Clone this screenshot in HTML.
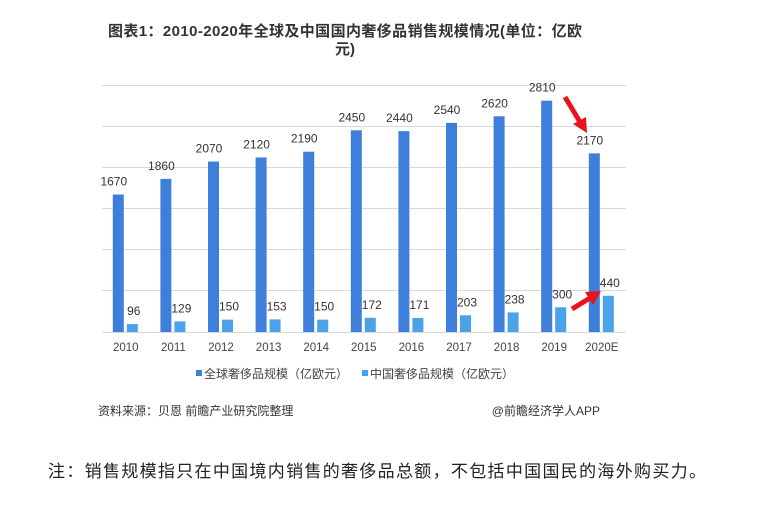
<!DOCTYPE html>
<html><head><meta charset="utf-8"><style>
body{margin:0;background:#fff;width:773px;height:510px;overflow:hidden;font-family:"Liberation Sans","Noto Sans CJK SC",sans-serif}
</style></head><body>
<svg width="773" height="510" xmlns="http://www.w3.org/2000/svg" style="position:absolute;left:0;top:0">
<g font-family="Liberation Sans, Noto Sans CJK SC, sans-serif">
<text x="345" y="36" font-size="15" font-weight="bold" fill="#333" text-anchor="middle" textLength="474">图表1：2010-2020年全球及中国国内奢侈品销售规模情况(单位：亿欧</text>
<text x="345" y="54" font-size="15" font-weight="bold" fill="#333" text-anchor="middle">元)</text>
<g stroke="#d9d9d9" stroke-width="1">
<line x1="102" x2="626" y1="85.5" y2="85.5"/><line x1="102" x2="626" y1="126.5" y2="126.5"/>
<line x1="102" x2="626" y1="167.5" y2="167.5"/><line x1="102" x2="626" y1="208.5" y2="208.5"/>
<line x1="102" x2="626" y1="249.5" y2="249.5"/><line x1="102" x2="626" y1="290.5" y2="290.5"/>
<line x1="102" x2="626" y1="332.5" y2="332.5"/>
</g>
<g id="bars"></g>
<rect x="196" y="370" width="6" height="6" fill="#3f7fdc"/>
<text x="204" y="378" font-size="12" fill="#444">全球奢侈品规模（亿欧元）</text>
<rect x="362" y="370" width="6" height="6" fill="#4aa3ea"/>
<text x="370" y="378" font-size="12" fill="#444">中国奢侈品规模（亿欧元）</text>
<text x="98" y="415" font-size="12" fill="#333">资料来源：贝恩 前瞻产业研究院整理</text>
<text x="600" y="415" font-size="12" fill="#333" text-anchor="end">@前瞻经济学人APP</text>
<text x="48" y="477" font-size="17" fill="#222" textLength="658">注：销售规模指只在中国境内销售的奢侈品总额，不包括中国国民的海外购买力。</text>
<g stroke="#e8141c" stroke-width="5" fill="#e8141c">
<line x1="565" y1="97" x2="580" y2="122"/>
<polygon points="573,124 587,133 586,117" stroke="none"/>
<line x1="572" y1="309" x2="590" y2="298"/>
<polygon points="585,292 601,291 593,305" stroke="none"/>
</g>
</g>
</svg>
<script>
var big=[1670,1860,2070,2120,2190,2450,2440,2540,2620,2810,2170];
var sm=[96,129,150,153,150,172,171,203,238,300,440];
var yrs=["2010","2011","2012","2013","2014","2015","2016","2017","2018","2019","2020E"];
var g=document.getElementById("bars"),s="",k=247/3000;
for(var i=0;i<11;i++){var c=102+47.6*(i+0.5);
var h=big[i]*k,h2=sm[i]*k;
s+='<rect x="'+(c-13)+'" y="'+(332-h)+'" width="11" height="'+h+'" fill="#3f7fdc"/>';
s+='<rect x="'+(c+1)+'" y="'+(332-h2)+'" width="11" height="'+h2+'" fill="#4aa3ea"/>';
s+='<text x="'+(c-12)+'" y="'+(332-h-9)+'" font-size="12" fill="#333" text-anchor="middle">'+big[i]+'</text>';
s+='<text x="'+(c+8)+'" y="'+(332-h2-9)+'" font-size="12" fill="#333" text-anchor="middle">'+sm[i]+'</text>';
s+='<text x="'+c+'" y="351" font-size="11.5" fill="#444" text-anchor="middle">'+yrs[i]+'</text>';}
g.innerHTML=s;
</script>
</body></html>
